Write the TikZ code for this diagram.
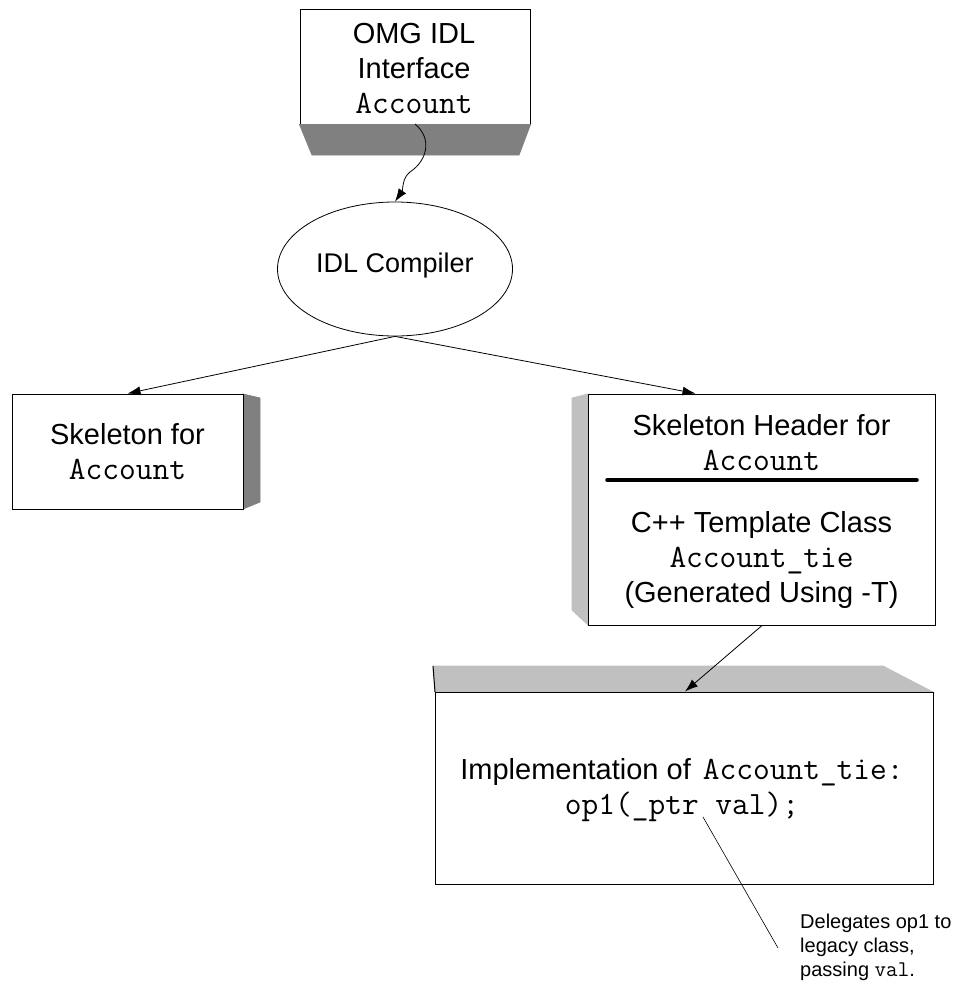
\documentclass[tikz,border=0pt]{standalone}
\usepackage{fontspec}
\setmainfont{Liberation Sans}
\setmonofont[Scale=1.12]{Latin Modern Mono}
\usetikzlibrary{arrows.meta,shapes.geometric}
\definecolor{darkshade}{HTML}{808080}
\definecolor{lightshade}{HTML}{C0C0C0}
\begin{document}
\begin{tikzpicture}[x=1pt,y=-1pt,
  box/.style={draw,line width=1pt,fill=white,inner sep=0pt},
  side/.style={draw,line width=0.8pt},
  txt/.style={align=center,font=\fontsize{29}{35}\selectfont,inner sep=0pt},
  note/.style={align=left,font=\fontsize{20}{24}\selectfont,inner sep=0pt},
  arr/.style={-{Latex[length=13pt,width=9pt]},line width=0.8pt}
]
\useasboundingbox (0,0) rectangle (956,990);

% top box
\node[box,minimum width=230pt,minimum height=114pt] (omg) at (415,67) {};
\fill[darkshade,side] (omg.south west) -- (omg.south east) -- (519,155) -- (312,155) -- cycle;
\node[txt] (omgt) at (414,68) {OMG IDL\\Interface\\\texttt{Account}};
\coordinate (omgout) at (415,124);

% compiler
\node[draw,ellipse,line width=0.8pt,minimum width=235pt,minimum height=134pt,inner sep=0pt] (comp) at (395,269) {};
\node[txt,font=\fontsize{27}{32}\selectfont] (compt) at (395,266) {IDL Compiler};

% skeleton
\fill[darkshade,side] (243,394) -- (260,398) -- (260,502) -- (243,509) -- cycle;
\node[box,minimum width=231pt,minimum height=115pt] (skel) at (127.5,451.5) {};
\node[txt] (skelt) at (127.5,452) {Skeleton for\\\texttt{Account}};

% header
\fill[lightshade,side] (588,394) -- (572,398) -- (572,610) -- (588,625) -- cycle;
\node[box,minimum width=347pt,minimum height=231pt] (hdr) at (761.5,509.5) {};
\node[txt] (hdrt1) at (761.5,443) {Skeleton Header for\\\texttt{Account}};
\coordinate (rulel) at (607,480);
\coordinate (ruler) at (917,480);
\draw[line width=3.5pt,line cap=round] (rulel) -- (ruler);
\node[txt] (hdrt2) at (761.5,560) {C++ Template Class\\\texttt{Account\_tie}\\(Generated Using -T)};

% implementation
\fill[lightshade,side] (433,666) -- (883,666) -- (933,692) -- (435,692) -- cycle;
\node[box,minimum width=498pt,minimum height=192pt] (impl) at (684,788) {};
\draw[line width=1pt] (433,666) -- (435,692);
\node[txt] (implt) at (682,790) {Implementation of\hspace{12pt}\texttt{Account\_tie:}\\\texttt{op1(\_ptr val);}};

% connectors
\draw[arr] (omgout) .. controls (432,138) and (428,160) .. (410,172) .. controls (402,178) and (403,190) .. (comp.north);
\draw[arr] (comp.south) -- (skel.north);
\draw[arr] (comp.south) -- ([xshift=-66pt]hdr.north);
\draw[arr] ([xshift=0.5pt]hdr.south) -- ([xshift=1pt]impl.north);

% note
\coordinate (ptr) at (703,817);
\coordinate (noteend) at (778,948);
\draw[line width=0.6pt] (ptr) -- (noteend);
\node[note,anchor=north west] (notet) at (800,914) {Delegates op1 to\\legacy class,\\passing \texttt{val}.};
\end{tikzpicture}
\end{document}
